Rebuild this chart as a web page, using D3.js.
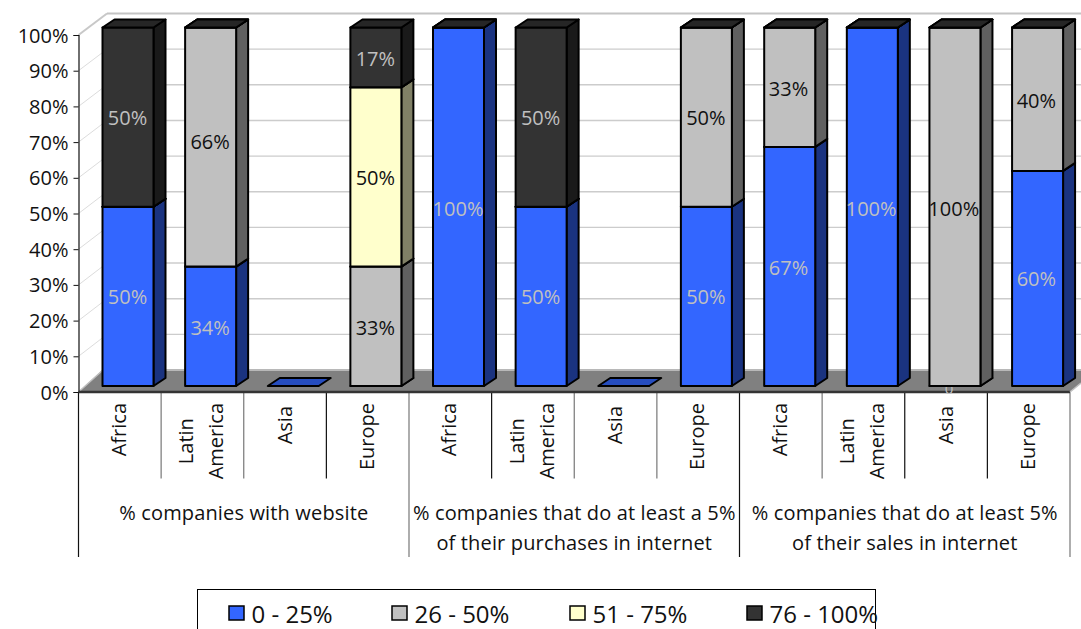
<!DOCTYPE html>
<html><head><meta charset="utf-8">
<script src="https://cdn.jsdelivr.net/npm/d3@7/dist/d3.min.js"></script>
<style>html,body{margin:0;padding:0;background:#fff;overflow:hidden}svg{display:block}text{font-family:"Open Sans",sans-serif;fill:#111}</style>
</head><body><svg id="c" width="1081" height="629"></svg>
<script>
const categories=["Africa","Latin America","Asia","Europe","Africa","Latin America","Asia","Europe","Africa","Latin America","Asia","Europe"];
const groups=[["% companies with website"],["% companies that do at least a 5%","of their purchases in internet"],["% companies that do at least 5%","of their sales in internet"]];
const seriesNames=["0 - 25%","26 - 50%","51 - 75%","76 - 100%"];
const low=[50,33.3,0,0,100,50,0,50,66.7,100,0,60];
const mid=[0,66.7,null,33.3,0,0,null,50,33.3,0,100,40];
const high=[0,0,null,50,0,0,null,0,0,0,0,0];
const top4=[50,0,null,16.7,0,50,null,0,0,0,0,0];
const lowLabels=[50,34,0,0,100,50,0,50,67,100,0,60];
const midLabels=[0,66,0,33,0,0,0,50,33,0,100,40];
const highLabels=[0,0,0,50,0,0,0,0,0,0,0,0];
const topLabels=[50,0,0,17,0,50,0,0,0,0,0,0];
const yTicks=[0,10,20,30,40,50,60,70,80,90,100];
const fronts=["#3366ff","#c0c0c0","#ffffcc","#333333"];
const sides=["#1a3380","#606060","#808066","#1a1a1a"];
const topsC=["#264dbf","#909090","#bfbf99","#262626"];
const labelC=["#c0c0c0","#111","#111","#c0c0c0"];
const sepC=["#111","#777","#777","#111","#777","#111","#777","#777","#111","#777","#111","#111","#777"];

const svg=d3.select("#c");
const L=78.5,R=1070,band=(R-L)/12;
const x=d3.scaleBand().domain(d3.range(12)).range([L,R]);
const y=d3.scaleLinear().domain([0,100]).range([386,27.5]);
const yAxis=d3.scaleLinear().domain([0,100]).range([392,35]);
const yWall=d3.scaleLinear().domain([0,100]).range([370,13.5]);
const wx=107, barOff=24, barW=51, dx=12, dy=8;

const poly=(pts,fill,stroke,sw)=>svg.append("polygon").attr("points",pts.map(p=>p.join(",")).join(" ")).attr("fill",fill).attr("stroke",stroke||"none").attr("stroke-width",sw||0).attr("stroke-linejoin","round");

// walls
yTicks.forEach(t=>{
  svg.append("line").attr("x1",L).attr("y1",yAxis(t)).attr("x2",wx).attr("y2",yWall(t)).attr("stroke",t==100?"#c8c8c8":"#dcdcdc").attr("stroke-width",t==100?2:1);
  if(t>0) svg.append("line").attr("x1",wx).attr("x2",1081).attr("y1",yWall(t)).attr("y2",yWall(t)).attr("stroke",t==100?"#c4c4c4":"#cccccc").attr("stroke-width",t==100?2:1.4);
});
// floor
poly([[L,392],[wx-4,369.5],[1081,369.5],[1081,383],[R,392]],"#808080");
svg.append("line").attr("x1",wx-4).attr("x2",1081).attr("y1",370).attr("y2",370).attr("stroke","#b8b8b8").attr("stroke-width",2);
svg.append("line").attr("x1",L).attr("y1",392).attr("x2",wx-4).attr("y2",370).attr("stroke","#c0c0c0").attr("stroke-width",1.5);

// axis
const ax=svg.append("g").attr("transform",`translate(${L},0)`).call(d3.axisLeft(yAxis).tickValues(yTicks).tickFormat(d=>d+"%").tickSize(5).tickPadding(5));
ax.selectAll("path").attr("stroke","#111").attr("stroke-width",1.2);
ax.selectAll("line").attr("stroke","#111");
ax.selectAll("text").attr("font-size",20).attr("dy","0.35em").style("font-family",'"Open Sans",sans-serif').style("fill","#111");

// category separators
d3.range(13).forEach(i=>{
  const px=L+i*band, major=i%4==0;
  svg.append("line").attr("x1",px).attr("x2",px).attr("y1",392).attr("y2",major?557:478.5).attr("stroke",sepC[i]).attr("stroke-width",1.2);
});
svg.append("line").attr("x1",L).attr("x2",R).attr("y1",392).attr("y2",392).attr("stroke","#333").attr("stroke-width",2.4);
svg.append("line").attr("x1",R).attr("x2",1081).attr("y1",392).attr("y2",383).attr("stroke","#c0c0c0").attr("stroke-width",1.5);

// stray zero label sits behind the bar
svg.append("text").attr("x",x(10)+band/2+3).attr("y",394).attr("text-anchor","middle").attr("font-size",15).style("fill","#c0c0c0").text("0");

// bars
const seriesVals=[low,mid,high,top4];
const labelVals=[lowLabels,midLabels,highLabels,topLabels];
const stack=d3.stack().keys([0,1,2,3]).value((d,k)=>seriesVals[k][d]||0)(d3.range(12));
d3.range(12).forEach(i=>{
  const bx=x(i)+barOff+(i>=8?0.7:0);
  stack.forEach((s,k)=>{
    if(seriesVals[k][i]===null) return;
    const [a,b]=s[i];
    const y0=y(a),y1=y(b);
    if(b>a){
      poly([[bx+barW,y0],[bx+barW+dx,y0-dy],[bx+barW+dx,y1-dy],[bx+barW,y1]],sides[k],"#000",2);
      poly([[bx,y0],[bx+barW,y0],[bx+barW,y1],[bx,y1]],fronts[k],"#000",2);
    }
    poly([[bx,y1],[bx+barW,y1],[bx+barW+dx,y1-dy],[bx+dx,y1-dy]],topsC[k],"#000",2);
  });
});
// value labels
d3.range(12).forEach(i=>{
  const bx=x(i)+barOff;
  stack.forEach((s,k)=>{
    const v=labelVals[k][i]; if(!v) return;
    const nudge=(i==1&&k==1)?-5:(s[i][1]-s[i][0]<=40||v==100||v==67)?2:1;
    svg.append("text").attr("x",bx+barW/2-0.5).attr("y",y((s[i][0]+s[i][1])/2)+nudge).attr("dy","0.35em").attr("text-anchor","middle").attr("font-size",20).style("fill",labelC[k]).text(v+"%");
  });
});

// category labels
categories.forEach((c,i)=>{
  const cx=x(i)+band/2+(c=="Asia"?0.5:0), lines=c.split(" ");
  const g=svg.append("g");
  const ts=lines.map((t,j)=>g.append("text").attr("text-anchor","middle").attr("font-size",20).text(t));
  const maxLen=d3.max(ts,t=>t.node().getComputedTextLength());
  const centerY=403+maxLen/2+(c=="Asia"?3:0);
  ts.forEach((t,j)=>{
    const off=(j-(lines.length-1)/2)*30;
    t.attr("transform",`translate(${cx+off+6},${centerY}) rotate(-90)`);
  });
});
// group labels
groups.forEach((ls,g)=>{
  const cx=L+band*(g*4+2);
  ls.forEach((t,j)=>svg.append("text").attr("x",cx).attr("y",513+j*30).attr("dy","0.35em").attr("text-anchor","middle").attr("font-size",20).style("letter-spacing","0.15px").text(t));
});
// legend
svg.append("rect").attr("x",197.5).attr("y",589.5).attr("width",678).attr("height",60).attr("fill","#fff").attr("stroke","#000");
const legPos=[229,392,570,747];
seriesNames.forEach((n,k)=>{
  svg.append("rect").attr("x",legPos[k]).attr("y",606).attr("width",15).attr("height",14).attr("fill",fronts[k]).attr("stroke","#000").attr("stroke-width",1.5);
  svg.append("text").attr("x",legPos[k]+22.5).attr("y",623).attr("font-size",24).text(n);
});
</script></body></html>
